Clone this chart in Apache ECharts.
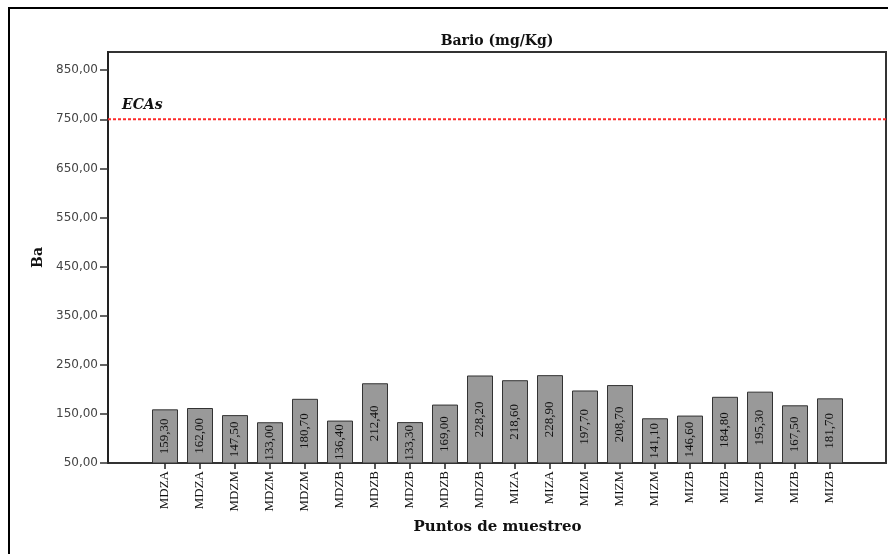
<!DOCTYPE html>
<html><head><meta charset="utf-8">
<script src="https://cdn.jsdelivr.net/npm/echarts@6/dist/echarts.min.js"></script>
<style>html,body{margin:0;padding:0;background:#fff}#c{width:888px;height:554px}</style>
</head><body><div id="c"></div>
<script>
const categories = ['MDZA','MDZA','MDZM','MDZM','MDZM','MDZB','MDZB','MDZB','MDZB','MDZB','MIZA','MIZA','MIZM','MIZM','MIZM','MIZB','MIZB','MIZB','MIZB','MIZB'];
const values = [159.30,162.00,147.50,133.00,180.70,136.40,212.40,133.30,169.00,228.20,218.60,228.90,197.70,208.70,141.10,146.60,184.80,195.30,167.50,181.70];
const yTicks = [50,150,250,350,450,550,650,750,850];
const ecaLimit = 750;
const ecaLabel = 'ECAs';
const chartTitle = 'Bario (mg/Kg)';
const xTitle = 'Puntos de muestreo';
const yTitle = 'Ba';
const yMin = 50, yMax = 887;

const fmt = v => Number(v).toFixed(2).replace('.', ',');
const serif = '"DejaVu Serif", serif';
const narrowSerif = '"Liberation Serif", serif';

const chart = echarts.init(document.getElementById('c'), null, {renderer: 'canvas'});
chart.setOption({
  animation: false,
  backgroundColor: '#fff',
  graphic: [
    {type: 'rect', silent: true, shape: {x: 9, y: 8, width: 900, height: 600},
     style: {fill: null, stroke: '#000', lineWidth: 2}},
    {type: 'text', silent: true, x: 497, y: 41,
     style: {text: chartTitle, fontFamily: serif, fontWeight: 'bold', fontSize: 14,
             fill: '#111', align: 'center', verticalAlign: 'middle'}}
  ],
  grid: [
    {left: 108, right: 2, top: 52, bottom: 91, show: true, borderColor: '#333', borderWidth: 2, backgroundColor: 'transparent'},
    {left: 147.5, right: 40.5, top: 52, bottom: 91}
  ],
  xAxis: [
    {gridIndex: 0, type: 'category', data: ['', ''], boundaryGap: false, show: false},
    {gridIndex: 1, type: 'category', data: categories,
     axisLine: {show: false},
     axisTick: {show: true, alignWithLabel: true, length: 6, lineStyle: {color: '#222', width: 1.5}},
     axisLabel: {rotate: 90, interval: 0, margin: 8, fontFamily: narrowSerif, fontSize: 13, color: '#111'},
     name: xTitle, nameLocation: 'middle', nameGap: 57,
     nameTextStyle: {fontFamily: serif, fontWeight: 'bold', fontSize: 15, color: '#111'}}
  ],
  yAxis: [
    {gridIndex: 0, type: 'value', min: yMin, max: yMax,
     axisLine: {show: true, lineStyle: {color: '#222', width: 2}},
     axisTick: {show: true, customValues: yTicks, length: 8, lineStyle: {color: '#333', width: 1.5}},
     axisLabel: {customValues: yTicks, formatter: v => fmt(v), margin: 10,
                 fontFamily: '"DejaVu Sans", sans-serif', fontSize: 12, color: '#444'},
     splitLine: {show: false},
     name: yTitle, nameLocation: 'middle', nameGap: 62, nameRotate: 90,
     nameTextStyle: {fontFamily: serif, fontWeight: 'bold', fontSize: 14, color: '#111'}},
    {gridIndex: 1, type: 'value', min: yMin, max: yMax, show: false, splitLine: {show: false}}
  ],
  series: [
    {type: 'bar', xAxisIndex: 1, yAxisIndex: 1, data: values, barWidth: 26,
     itemStyle: {color: '#999999', borderColor: '#333', borderWidth: 1},
     label: {show: true, position: 'inside', rotate: 90, formatter: p => fmt(p.value),
             fontFamily: narrowSerif, fontSize: 13, color: '#111'}},
    {type: 'line', xAxisIndex: 0, yAxisIndex: 0,
     data: [{value: ecaLimit, label: {show: true, formatter: ecaLabel, position: 'top', align: 'left',
              offset: [14, -1], fontFamily: serif, fontStyle: 'italic', fontWeight: 'bold', fontSize: 14, color: '#111'}},
            ecaLimit],
     symbol: 'circle', symbolSize: 1, showSymbol: true,
     itemStyle: {color: 'rgba(0,0,0,0)'},
     lineStyle: {color: '#ff2a2a', width: 2, type: [3, 2]}, z: 5}
  ]
});
</script>
</body></html>
